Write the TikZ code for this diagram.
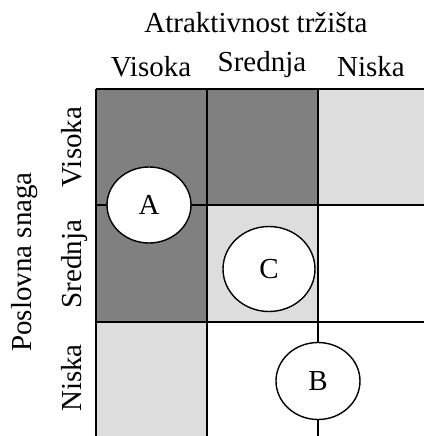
\documentclass[tikz,border=0pt]{standalone}
\usepackage{fontspec}
\setmainfont{Liberation Serif}
\usetikzlibrary{shapes.geometric}
\definecolor{darkcell}{HTML}{808080}
\definecolor{lightcell}{HTML}{DDDDDD}
\begin{document}
\begin{tikzpicture}[x=1pt,y=-1pt,
  lbl/.style={font=\fontsize{29}{34}\selectfont, inner sep=0pt},
  grid/.style={line width=1.6pt, black},
  bubble/.style={ellipse, draw, fill=white, line width=1.4pt, inner sep=0pt, font=\fontsize{29}{34}\selectfont}]
\useasboundingbox (0,0) rectangle (424,436);
\fill[white] (0,0) rectangle (424,436);
% cells
\fill[darkcell] (96,89) rectangle (207,205);
\fill[darkcell] (207,89) rectangle (318,205);
\fill[lightcell] (318,89) rectangle (424,205);
\fill[darkcell] (96,205) rectangle (207,322);
\fill[lightcell] (207,205) rectangle (318,322);
\fill[lightcell] (96,322) rectangle (207,436);
% grid lines
\coordinate (tl) at (96,89);
\coordinate (tr) at (424,89);
\coordinate (bl) at (96,436);
\coordinate (v1t) at (207,89);
\coordinate (v1b) at (207,436);
\coordinate (v2t) at (318,89);
\coordinate (v2b) at (318,436);
\coordinate (h1l) at (96,205);
\coordinate (h1r) at (424,205);
\coordinate (h2l) at (96,322);
\coordinate (h2r) at (424,322);
\draw[grid] (tl) -- (tr);
\draw[grid] (tl) -- (bl);
\draw[grid] (v1t) -- (v1b);
\draw[grid] (v2t) -- (v2b);
\draw[grid] (h1l) -- (h1r);
\draw[grid] (h2l) -- (h2r);
% labels
\node[lbl, anchor=base] (title) at (256,33) {Atraktivnost tržišta};
\node[lbl, anchor=base] (cv) at (151,77) {Visoka};
\node[lbl, anchor=base] (cs) at (262,71) {Srednja};
\node[lbl, anchor=base] (cn) at (371,77) {Niska};
\node[lbl, anchor=base, rotate=90] (side) at (31,262) {Poslovna snaga};
\node[lbl, anchor=base, rotate=90] (rv) at (81,147) {Visoka};
\node[lbl, anchor=base, rotate=90] (rs) at (81,264) {Srednja};
\node[lbl, anchor=base, rotate=90] (rn) at (81,378) {Niska};
% bubbles
\node[bubble, minimum width=84pt, minimum height=76pt] (A) at (149,205) {A};
\node[bubble, minimum width=92pt, minimum height=85pt] (C) at (269,269) {C};
\node[bubble, minimum width=84pt, minimum height=77pt] (B) at (318,381) {B};
\end{tikzpicture}
\end{document}
